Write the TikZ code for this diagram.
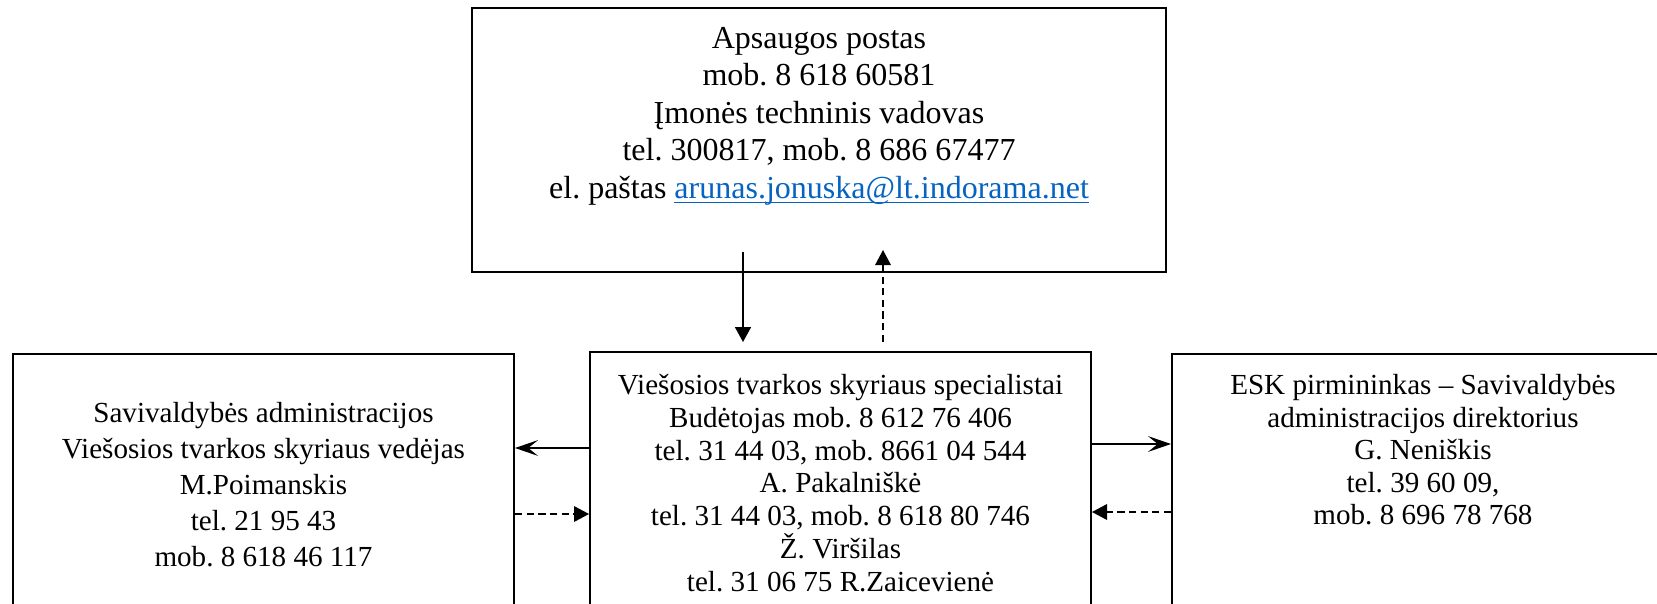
\documentclass[tikz,border=0pt]{standalone}
\usepackage{fontspec}
\setmainfont{Liberation Serif}
\usetikzlibrary{arrows.meta,calc}
\definecolor{linkblue}{HTML}{0563C1}
\newcommand\linkul[1]{\setbox0\hbox{#1}\rlap{\rule[-2.1pt]{\wd0}{0.6pt}}\box0}
\frenchspacing
\begin{document}
\begin{tikzpicture}[x=0.4124pt,y=-0.4124pt,
  box/.style={draw,line width=0.8pt,inner sep=0pt,rectangle},
  txt/.style={align=center,inner sep=0pt,font=\fontsize{12pt}{#1}\selectfont},
  toptxtstyle/.style={align=center,inner sep=0pt,font=\fontsize{13.2pt}{15.48pt}\selectfont},
  solidarr/.style={line width=0.7pt,-{Stealth[length=9.5pt,width=6.5pt,inset=4pt]}},
  dasharr/.style={line width=0.7pt,dash pattern=on 3pt off 1.8pt,-{Triangle[length=6.2pt,width=6.4pt]}},
  plainarr/.style={line width=0.7pt,-{Triangle[length=6.2pt,width=6.6pt]}}]
\useasboundingbox (0,0) rectangle (1657,603);
\clip (0,0) rectangle (1657,603);
% boxes
\node[box,minimum width=286.2pt,minimum height=108.9pt] (top) at (819,140) {};
\node[box,minimum width=206.6pt,minimum height=122.1pt] (left) at (263.5,502) {};
\node[box,minimum width=206.6pt,minimum height=122.9pt] (mid) at (840.5,501) {};
\node[box,minimum width=207.0pt,minimum height=122.1pt] (right) at (1423,502) {};
% texts
\node[toptxtstyle] (toptxt) at (819,116) {Apsaugos postas\\mob. 8 618 60581\\Įmonės techninis vadovas\\tel. 300817, mob. 8 686 67477\\el. paštas \textcolor{linkblue}{\linkul{arunas.jonuska@lt.indorama.net}}};
\node[txt=14.85pt] (lefttxt) at (263.5,485) {Savivaldybės administracijos\\Viešosios tvarkos skyriaus vedėjas\\M.Poimanskis\\tel. 21 95 43\\mob. 8 618 46 117};
\node[txt=13.5pt] (midtxt) at (840.5,483) {Viešosios tvarkos skyriaus specialistai\\Budėtojas mob. 8 612 76 406\\tel. 31 44 03, mob. 8661 04 544\\A. Pakalniškė\\tel. 31 44 03, mob. 8 618 80 746\\Ž. Viršilas\\tel. 31 06 75 R.Zaicevienė};
\node[txt=13.4pt] (righttxt) at (1423,450) {ESK pirmininkas – Savivaldybės\\administracijos direktorius\\G. Neniškis\\tel. 39 60 09,\\mob. 8 696 78 768};
% vertical connectors
\coordinate (d1) at (743,252);
\coordinate (u1) at (883,250);
\draw[plainarr] (d1) -- ($(d1 |- mid.north)+(0,-9)$);
\draw[dasharr] ($(u1 |- mid.north)+(0,-9)$) -- (u1);
% horizontal connectors
\draw[solidarr] (mid.west |- 0,448) -- (left.east |- 0,448);
\draw[dasharr] (left.east |- 0,514) -- (mid.west |- 0,514);
\draw[solidarr] (mid.east |- 0,444) -- (right.west |- 0,444);
\draw[dasharr] (right.west |- 0,512) -- (mid.east |- 0,512);
\end{tikzpicture}
\end{document}
